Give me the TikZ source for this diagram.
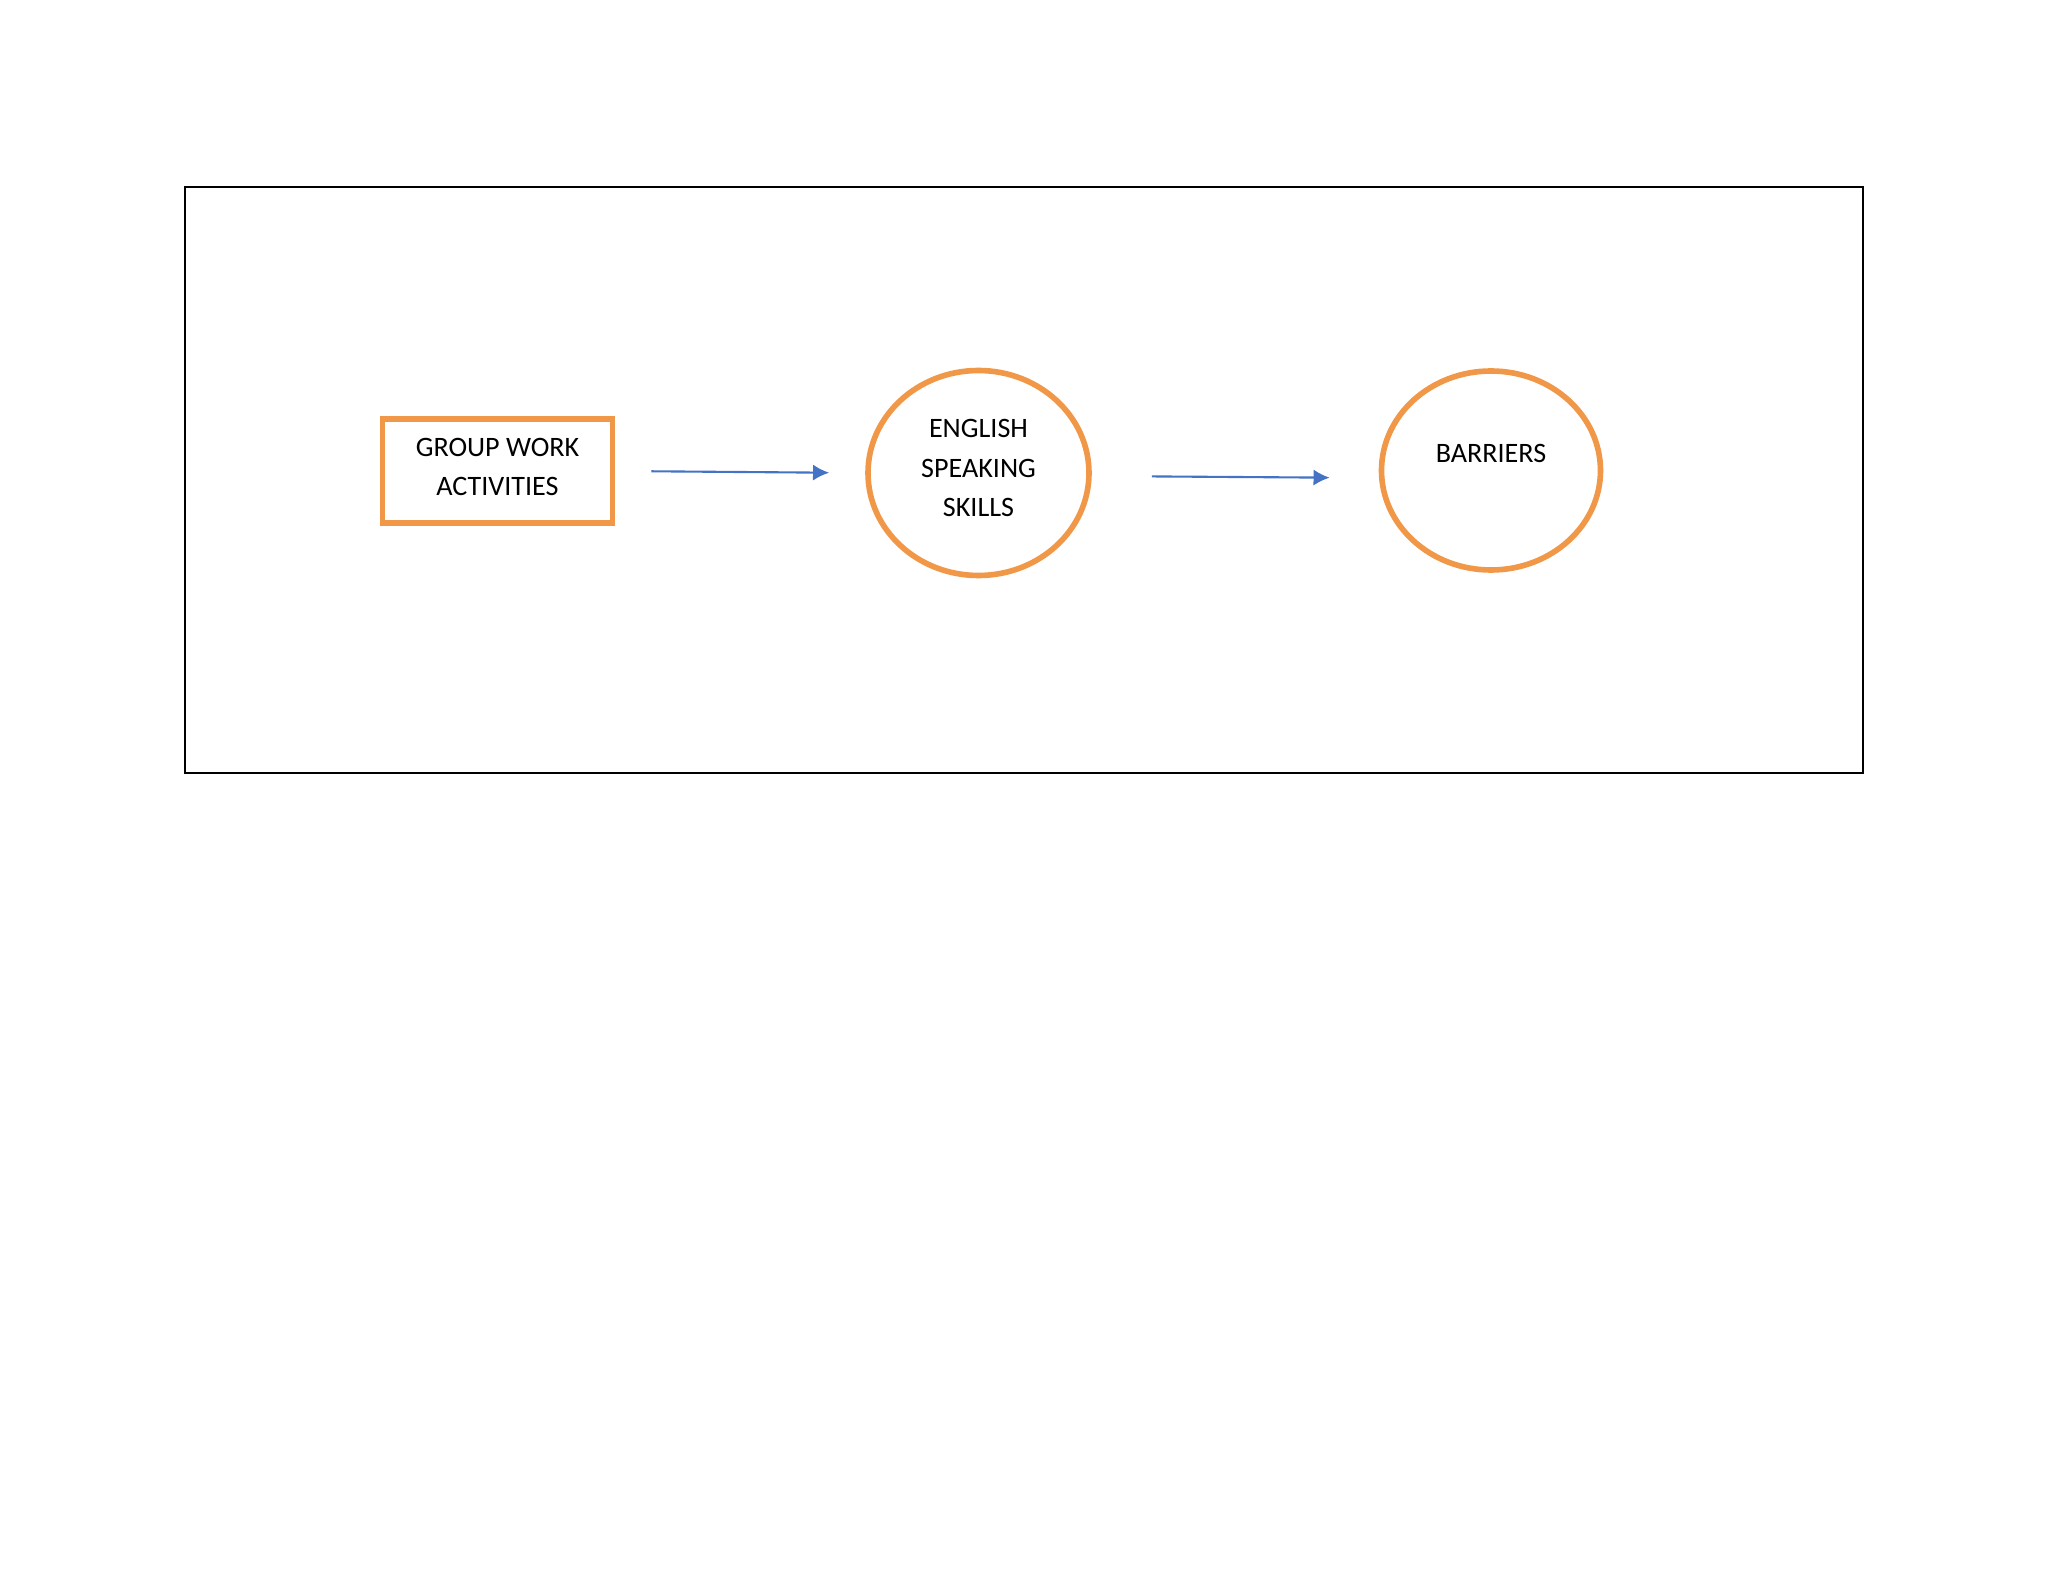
\documentclass[tikz,border=0pt]{standalone}
\usepackage{fontspec}
\setmainfont{Carlito}
\usetikzlibrary{shapes.geometric,arrows.meta}
\definecolor{boxorange}{RGB}{241,151,72}
\definecolor{arrowblue}{RGB}{68,114,196}

\begin{document}
\begin{tikzpicture}[
    every node/.style={font=\fontsize{8pt}{11.2pt}\selectfont,align=center,inner sep=0pt},
    orangebox/.style={draw=boxorange,line width=1.6pt,minimum width=2.3cm,minimum height=1.04cm,text depth=2.4pt},
    orangeoval/.style={draw=boxorange,line width=1.6pt,ellipse},
    flow/.style={draw=arrowblue,line width=0.6pt,-{Latex[length=4.6pt,width=4.6pt]}}]
    \useasboundingbox (0,0) rectangle (20.48,-15.82);
    \draw[line width=0.6pt] (1.85,-1.87) rectangle (18.63,-7.73);
    \node[orangebox] (group) at (4.975,-4.71) {GROUP WORK\\ACTIVITIES};
    \node[orangeoval,minimum width=2.21cm,minimum height=2.05cm,text depth=2.8pt] (skills) at (9.785,-4.73) {ENGLISH\\SPEAKING\\SKILLS};
    \node[orangeoval,minimum width=2.19cm,minimum height=1.99cm] (barriers) at (14.91,-4.705) {BARRIERS\\[-1.5pt]~};
    \draw[flow,shorten <=0.36cm,shorten >=0.36cm] (group.east) -- (skills.west);
    \draw[flow,shorten <=0.6cm,shorten >=0.49cm] ([yshift=-0.03cm]skills.east) -- ([yshift=-0.075cm]barriers.west);
\end{tikzpicture}
\end{document}
